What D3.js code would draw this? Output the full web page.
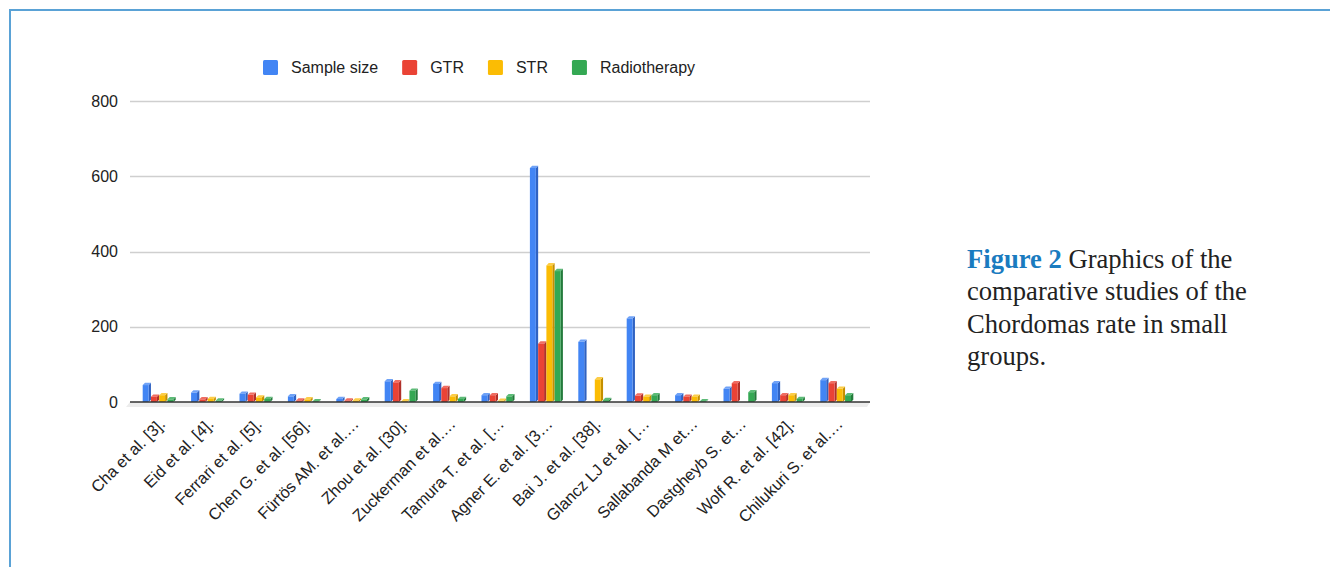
<!DOCTYPE html>
<html>
<head>
<meta charset="utf-8">
<script src="https://cdn.jsdelivr.net/npm/d3@7"></script>
<style>
  html, body { margin: 0; padding: 0; background: #fff; }
  svg { display: block; }
</style>
</head>
<body>
<svg id="chart" width="1330" height="567"></svg>
<script>
const categories = [
  "Cha et al. [3].", "Eid et al. [4].", "Ferrari et al. [5].", "Chen G. et al. [56].",
  "Fürtös AM. et al.…", "Zhou et al. [30].", "Zuckerman et al.…", "Tamura T. et al. […",
  "Agner E. et al. [3…", "Bai J. et al. [38].", "Glancz LJ et al. […", "Sallabanda M et…",
  "Dastgheyb S. et…", "Wolf R. et al. [42].", "Chilukuri S. et al.…"
];
const seriesNames = ["Sample size", "GTR", "STR", "Radiotherapy"];
const sampleSize   = [45, 25, 22, 15, 8, 55, 48, 18, 622, 160, 222, 18, 35, 50, 58];
const gtr          = [14, 7, 19, 4, 4, 52, 37, 18, 155, 0, 17, 14, 50, 18, 50];
const str          = [18, 8, 12, 7, 4, 2, 15, 3, 363, 60, 14, 14, 0, 18, 35];
const radiotherapy = [7, 4, 8, 2, 7, 30, 8, 15, 348, 5, 18, 2, 26, 8, 18];
const yTicks = [0, 200, 400, 600, 800];
const captionLines = ["Graphics of the", "comparative studies of the", "Chordomas rate in small", "groups."];

const seriesValues = [sampleSize, gtr, str, radiotherapy];
const colors = ["#4285F4", "#EA4335", "#FBBC04", "#34A853"];
const sideColors = ["#2f62c2", "#b0302a", "#c48f00", "#237a3b"];
const topColors = ["#6fa2f7", "#f06d62", "#fccd48", "#5cbb77"];

const svg = d3.select("#chart");
const font = "Liberation Sans, Arial, sans-serif";

// frame
svg.append("path").attr("d", "M10,567 L10,10 L1330,10")
  .attr("fill", "none").attr("stroke", "#5aa2d6").attr("stroke-width", 2);

const plotL = 130, plotR = 870;
const y = d3.scaleLinear().domain([0, 800]).range([402, 101]);
const x0 = d3.scaleBand().domain(categories).range([135, 861]).paddingInner(0.318).paddingOuter(0.159);
const x1 = d3.scaleBand().domain(seriesNames).range([0, x0.bandwidth()]);

// gridlines
svg.append("g").selectAll("line").data(yTicks.filter(d => d > 0)).join("line")
  .attr("x1", plotL).attr("x2", plotR)
  .attr("y1", d => Math.round(y(d)) + 0.5).attr("y2", d => Math.round(y(d)) + 0.5)
  .attr("stroke", "#cfcfcf").attr("stroke-width", 1.6);

// y labels
svg.append("g").selectAll("text").data(yTicks).join("text")
  .attr("x", 118).attr("y", d => y(d)).attr("dy", "0.35em")
  .attr("text-anchor", "end").attr("font-family", font).attr("font-size", 16).attr("fill", "#222")
  .text(d => d);

// floor
const b = y(0);
svg.append("path").attr("d", `M${plotL},${b} L${plotR},${b} L${plotR-3},${b+5} L${plotL-4},${b+5} Z`)
  .attr("fill", "#ececec");

// bars
const depth = x1.bandwidth() * 0.28;
const fw = x1.bandwidth() - depth;
const g = svg.append("g");
categories.forEach((c, i) => {
  seriesNames.forEach((s, j) => {
    const v = seriesValues[j][i];
    const bx = x0(c) + x1(s);
    const top = y(v);
    if (v <= 0) return;
    g.append("path").attr("d", `M${bx+fw},${top} L${bx+fw+depth},${top-depth} L${bx+fw+depth},${b-depth} L${bx+fw},${b} Z`)
      .attr("fill", sideColors[j]);
    g.append("path").attr("d", `M${bx},${top} L${bx+depth},${top-depth} L${bx+fw+depth},${top-depth} L${bx+fw},${top} Z`)
      .attr("fill", topColors[j]);
    g.append("rect").attr("x", bx).attr("y", top).attr("width", fw).attr("height", b - top)
      .attr("fill", colors[j]);
  });
});

// baseline
svg.append("line").attr("x1", plotL).attr("x2", plotR).attr("y1", b).attr("y2", b)
  .attr("stroke", "#333").attr("stroke-width", 1.5);

// x labels
svg.append("g").selectAll("text").data(categories).join("text")
  .attr("transform", d => `translate(${x0(d) + x0.bandwidth()/2 + 7},${425}) rotate(-45)`)
  .attr("text-anchor", "end").attr("font-family", font).attr("font-size", 16.3).attr("fill", "#222")
  .text(d => d);

// legend
const lg = svg.append("g");
let lx = 263;
seriesNames.forEach((s, j) => {
  lg.append("rect").attr("x", lx).attr("y", 60).attr("width", 15).attr("height", 15).attr("rx", 1.5)
    .attr("fill", colors[j]);
  const t = lg.append("text").attr("x", lx + 28).attr("y", 67.5).attr("dy", "0.35em")
    .attr("font-family", font).attr("font-size", 16).attr("fill", "#222").text(s);
  lx = lx + 28 + t.node().getComputedTextLength() + 24;
});

// caption
const serif = "Liberation Serif, Times New Roman, serif";
const cap = svg.append("text").attr("font-family", serif).attr("font-size", 26.6).attr("fill", "#222");
captionLines.forEach((line, k) => {
  const ts = cap.append("tspan").attr("x", 967).attr("y", 268 + k * 32.3);
  if (k === 0) {
    ts.append("tspan").attr("font-weight", "bold").attr("fill", "#1a7bbf").text("Figure 2");
    ts.append("tspan").text(" " + line);
  } else {
    ts.text(line);
  }
});
</script>
</body>
</html>
